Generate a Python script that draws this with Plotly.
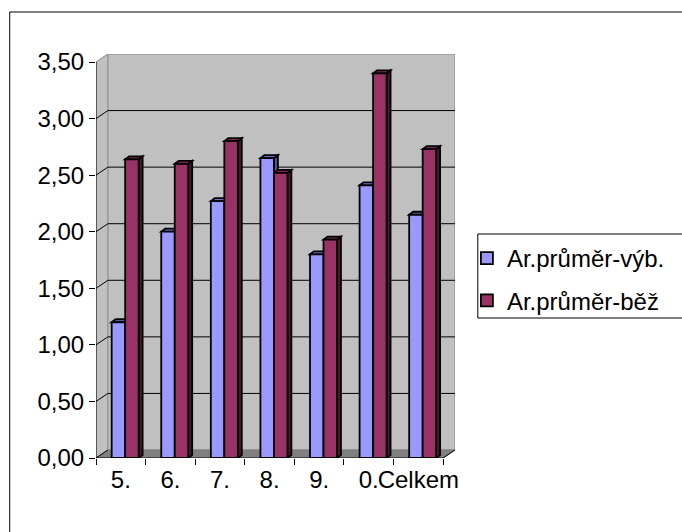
import plotly.graph_objects as go

# ---- data -------------------------------------------------------------
CATEGORIES = ["5.", "6.", "7.", "8.", "9.", "0.", "Celkem"]
VYB = [1.20, 2.00, 2.27, 2.65, 1.80, 2.41, 2.15]   # Ar.průměr-výb.
BEZ = [2.64, 2.60, 2.80, 2.52, 1.93, 3.40, 2.73]   # Ar.průměr-běž
SERIES_NAMES = ["Ar.průměr-výb.", "Ar.průměr-běž"]
Y_TICKS = [0, 0.5, 1.0, 1.5, 2.0, 2.5, 3.0, 3.5]

# ---- styling / geometry ----------------------------------------------
W, H = 682, 532
L, R, T, B = 96, 224, 54, 74
PLOT_W = W - L - R
PLOT_H = H - T - B
FONT = "Liberation Sans"

N = len(CATEGORIES)
Y_MAX = Y_TICKS[-1]
WALL_DX_PX, WALL_DY_PX = 12, 8      # oblique depth of the chart box
BAR_DX_PX, BAR_DY_PX = 4, 3         # depth of each column
FRONT_SPAN_PX = PLOT_W - WALL_DX_PX
PX_PER_CAT = FRONT_SPAN_PX / N
PX_PER_UNIT = (PLOT_H - WALL_DY_PX) / Y_MAX

wdx = WALL_DX_PX / PX_PER_CAT
wdy = WALL_DY_PX / PX_PER_UNIT
bdx = BAR_DX_PX / PX_PER_CAT
bdy = BAR_DY_PX / PX_PER_UNIT
BAR_W = 0.272
BAR_SHIFT = 0.088

COLORS = {
    "front": ["#9999FF", "#993366"],
    "top": ["#7070CC", "#7A2952"],
    "side": ["#55558F", "#4A1832"],
}
WALL = "#C0C0C0"
FLOOR = "#808080"
EDGE = "#9A9A9A"
OUTLINE_W = 1.8

x0, x1 = -0.5, N - 0.5


def poly(pts):
    return "M " + " L ".join(f"{x},{y}" for x, y in pts) + " Z"


shapes = []
# side wall, back wall, floor
shapes.append(dict(type="path", xref="x", yref="y", layer="below",
                   path=poly([(x0, 0), (x0 + wdx, wdy), (x0 + wdx, Y_MAX + wdy), (x0, Y_MAX)]),
                   fillcolor=WALL, line=dict(color=EDGE, width=1)))
shapes.append(dict(type="path", xref="x", yref="y", layer="below",
                   path=poly([(x0 + wdx, wdy), (x1 + wdx, wdy), (x1 + wdx, Y_MAX + wdy), (x0 + wdx, Y_MAX + wdy)]),
                   fillcolor=WALL, line=dict(color=EDGE, width=1.5)))
shapes.append(dict(type="path", xref="x", yref="y", layer="below",
                   path=poly([(x0, 0), (x1, 0), (x1 + wdx, wdy), (x0 + wdx, wdy)]),
                   fillcolor=FLOOR, line=dict(color=FLOOR, width=1)))
# gridlines on back wall and side wall
for v in Y_TICKS[1:-1]:
    shapes.append(dict(type="line", xref="x", yref="y", layer="below",
                       x0=x0 + wdx, x1=x1 + wdx, y0=v + wdy, y1=v + wdy,
                       line=dict(color="black", width=1)))
for v in Y_TICKS[:-1]:
    shapes.append(dict(type="line", xref="x", yref="y", layer="below",
                       x0=x0, x1=x0 + wdx, y0=v, y1=v + wdy,
                       line=dict(color="black", width=1)))
shapes.append(dict(type="line", xref="x", yref="y", layer="below",
                   x0=x0, x1=x0 + wdx, y0=Y_MAX, y1=Y_MAX + wdy,
                   line=dict(color=EDGE, width=1)))

# top and right faces of the columns
for s, vals in enumerate([VYB, BEZ]):
    for i, v in enumerate(vals):
        if s == 0:
            xl, xr = i + BAR_SHIFT - BAR_W, i + BAR_SHIFT
        else:
            xl, xr = i + BAR_SHIFT, i + BAR_SHIFT + BAR_W
        shapes.append(dict(type="path", xref="x", yref="y", layer="below",
                           path=poly([(xr, 0), (xr + bdx, bdy), (xr + bdx, v + bdy), (xr, v)]),
                           fillcolor=COLORS["side"][s], line=dict(color="black", width=OUTLINE_W)))
        shapes.append(dict(type="path", xref="x", yref="y", layer="below",
                           path=poly([(xl, v), (xl + bdx, v + bdy), (xr + bdx, v + bdy), (xr, v)]),
                           fillcolor=COLORS["top"][s], line=dict(color="black", width=OUTLINE_W)))

# front axis lines
shapes.append(dict(type="line", xref="x", yref="y", layer="above",
                   x0=x0, x1=x0, y0=0, y1=Y_MAX, line=dict(color="black", width=1)))
shapes.append(dict(type="line", xref="x", yref="y", layer="above",
                   x0=x0, x1=x1, y0=0, y1=0, line=dict(color="black", width=1)))
shapes.append(dict(type="line", xref="x", yref="y", layer="above",
                   x0=x1, x1=x1 + wdx, y0=0, y1=wdy, line=dict(color="black", width=1)))


def px_to_paper_x(px):
    return (px - L) / PLOT_W


def px_to_paper_y(py):
    return (H - B - py) / PLOT_H


# chart frame (top and left edges) and legend box
shapes.append(dict(type="line", xref="paper", yref="paper", layer="above",
                   x0=px_to_paper_x(9), x1=px_to_paper_x(W + 5),
                   y0=px_to_paper_y(12), y1=px_to_paper_y(12),
                   line=dict(color="black", width=1)))
shapes.append(dict(type="line", xref="paper", yref="paper", layer="above",
                   x0=px_to_paper_x(9), x1=px_to_paper_x(9),
                   y0=px_to_paper_y(12), y1=px_to_paper_y(H + 5),
                   line=dict(color="black", width=1)))
shapes.append(dict(type="rect", xref="paper", yref="paper", layer="above",
                   x0=px_to_paper_x(481), x1=px_to_paper_x(W + 20),
                   y0=px_to_paper_y(318), y1=px_to_paper_y(234),
                   line=dict(color="black", width=1), fillcolor="rgba(0,0,0,0)"))

fig = go.Figure()
for s, vals in enumerate([VYB, BEZ]):
    if s == 0:
        xs = [i + BAR_SHIFT - BAR_W / 2 for i in range(N)]
    else:
        xs = [i + BAR_SHIFT + BAR_W / 2 for i in range(N)]
    fig.add_trace(go.Bar(
        x=xs, y=vals, width=BAR_W, name=SERIES_NAMES[s],
        marker=dict(color=COLORS["front"][s], line=dict(color="black", width=OUTLINE_W)),
        legendgroup=f"g{s}",
    ))

fig.update_layout(
    width=W, height=H, autosize=False,
    margin=dict(l=L, r=R, t=T, b=B, pad=0),
    paper_bgcolor="white", plot_bgcolor="white",
    barmode="overlay",
    separators=", ",
    font=dict(family=FONT, size=24, color="black"),
    shapes=shapes,
    showlegend=True,
    legend=dict(x=px_to_paper_x(470), y=px_to_paper_y(236), xanchor="left", yanchor="top",
                bgcolor="rgba(0,0,0,0)", borderwidth=0,
                font=dict(family=FONT, size=24, color="black"),
                tracegroupgap=8, itemwidth=30),
    xaxis=dict(
        range=[x0, x1 + wdx], tickmode="array",
        tickvals=list(range(N)), ticktext=CATEGORIES, tickangle=0, automargin=False,
        ticks="outside", ticklen=0, showgrid=False, zeroline=False, showline=False,
        tickfont=dict(family=FONT, size=24),
        minor=dict(tickmode="array", tickvals=[x0 + k for k in range(N + 1)],
                   ticks="outside", ticklen=6, tickcolor="black", tickwidth=1, showgrid=False),
        fixedrange=True,
    ),
    yaxis=dict(
        range=[0, Y_MAX + wdy], tickmode="array", tickvals=Y_TICKS, automargin=False,
        tickformat=".2f", ticks="outside", ticklen=6, tickcolor="black", tickwidth=1,
        showgrid=False, zeroline=False, showline=False,
        tickfont=dict(family=FONT, size=24),
        fixedrange=True,
    ),
)

fig.write_html("out.html")
